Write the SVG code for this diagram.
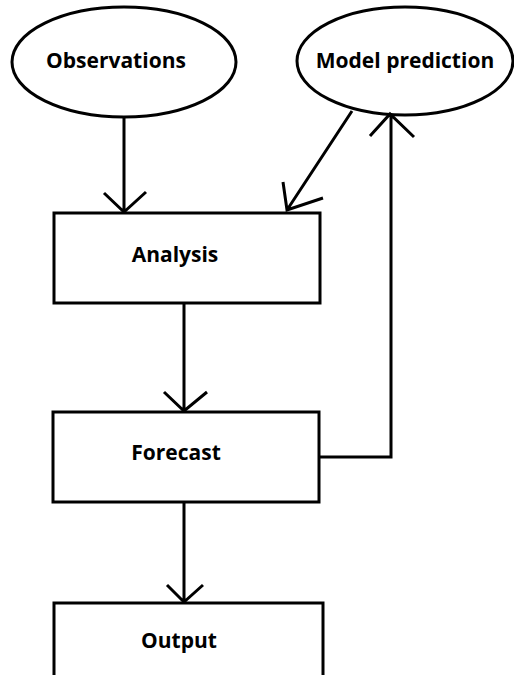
<svg xmlns="http://www.w3.org/2000/svg" width="514" height="675" viewBox="0 0 514 675">
<style>
.s{fill:#fff;stroke:#000;stroke-width:3}
.c{fill:none;stroke:#000;stroke-width:3}
.t{font-family:"Open Sans","Noto Sans",sans-serif;font-weight:bold;font-size:21px;fill:#000;text-anchor:middle}
</style>
<rect width="514" height="675" fill="#fff"/>
<g id="observations"><ellipse class="s" cx="124" cy="62" rx="112" ry="55"/><text class="t" x="116" y="68">Observations</text></g>
<g id="model-prediction"><ellipse class="s" cx="405" cy="61" rx="108" ry="54"/><text class="t" x="405" y="68">Model prediction</text></g>
<g id="analysis"><rect class="s" x="54" y="213" width="266" height="90"/><text class="t" x="175" y="262">Analysis</text></g>
<g id="forecast"><rect class="s" x="53" y="412" width="266" height="90"/><text class="t" x="176" y="460">Forecast</text></g>
<g id="output"><rect class="s" x="54" y="603" width="269" height="90"/><text class="t" x="179" y="648">Output</text></g>
<g id="connectors">
<path class="c" d="M124 117V212M104 193L124 212L146 192"/>
<path class="c" d="M352 111L287 210M283 182L287 210L323 198"/>
<path class="c" d="M184 303V411M164 392L184 411L207 392"/>
<path class="c" d="M319 457H391V114M370 136L390 114L414 137"/>
<path class="c" d="M184 502V602M167 585L184 602L203 585"/>
</g>
</svg>
